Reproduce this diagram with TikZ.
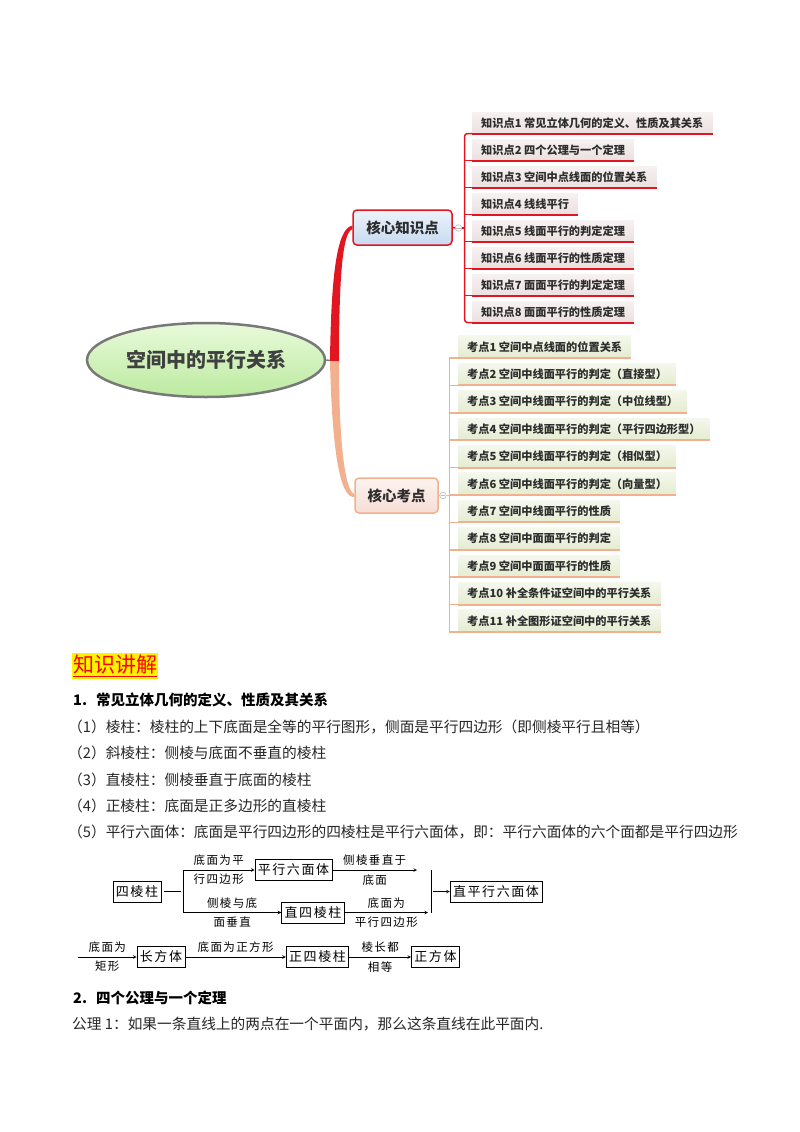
\documentclass[tikz,border=0pt]{standalone}
\usepackage{fontspec}
\setmainfont{Noto Sans CJK SC}
\newfontfamily\boxfont[LetterSpace=12]{Noto Sans CJK SC}
\usepackage{xcolor}
\usetikzlibrary{positioning,shapes.geometric}

\definecolor{mapred}{RGB}{226,22,32}
\definecolor{mapsalmon}{RGB}{242,176,142}
\definecolor{maptext}{RGB}{45,45,45}
\definecolor{rootgray}{RGB}{120,120,120}
\definecolor{kpfill}{RGB}{236,224,224}
\definecolor{epfill}{RGB}{228,236,208}

\tikzset{
  rootnode/.style={ellipse, draw=rootgray, line width=2.5pt, top color={rgb,255:red,232;green,250;blue,218}, bottom color={rgb,255:red,188;green,234;blue,160}, minimum width=238pt, minimum height=74pt, font=\fontsize{20}{24}\selectfont\bfseries, text=black!75},
  kcnode/.style={draw=mapred, line width=1.5pt, rounded corners=4pt, top color={rgb,255:red,236;green,243;blue,251}, bottom color={rgb,255:red,200;green,218;blue,240}, minimum width=99pt, minimum height=35pt, font=\fontsize{14.5}{17}\selectfont\bfseries, text=maptext},
  ecnode/.style={draw=mapsalmon, line width=1.5pt, rounded corners=4pt, top color={rgb,255:red,253;green,242;blue,238}, bottom color={rgb,255:red,246;green,222;blue,214}, minimum width=83pt, minimum height=35pt, font=\fontsize{14.5}{17}\selectfont\bfseries, text=maptext},
  kpitem/.style={anchor=south west, minimum height=21pt, inner xsep=9pt, inner ysep=0pt, top color=white!55!kpfill, bottom color=kpfill, font=\fontsize{11.2}{13}\selectfont\bfseries, text=maptext},
  epitem/.style={anchor=south west, minimum height=22pt, inner xsep=9pt, inner ysep=0pt, top color=white!60!epfill, bottom color=epfill, font=\fontsize{11.2}{13}\selectfont\bfseries, text=maptext},
  kline/.style={draw=mapred, line width=1.5pt},
  eline/.style={draw=mapsalmon, line width=1.5pt},
  foldmark/.style={circle, draw=gray!55, fill=white, line width=0.6pt, inner sep=0pt, minimum size=6.5pt},
  bodytext/.style={anchor=west, inner sep=0pt, font=\fontsize{14.7}{17}\selectfont, text=black!85},
  headtext/.style={anchor=west, inner sep=0pt, font=\fontsize{14.5}{17}\selectfont\bfseries, text=black},
  solidbox/.style={draw, line width=0.7pt, minimum height=21pt, inner xsep=3pt, inner ysep=0pt, font=\boxfont\fontsize{13}{15}\selectfont},
  arrlabel/.style={inner xsep=1.5pt, inner ysep=4pt, font=\boxfont\fontsize{11.5}{13}\selectfont},
  flow/.style={->, >=stealth, line width=0.6pt},
}

\begin{document}
\begin{tikzpicture}[x=1pt,y=-1pt]
\useasboundingbox (0,0) rectangle (800,1132);

% mind map: centre and the two main branches
\node[rootnode] (cen) at (206,360) {空间中的平行关系};
\node[kcnode] (kc) at (402.5,227.5) {核心知识点};
\node[ecnode] (ec) at (396.5,495.5) {核心考点};
\coordinate (root) at (334,361);

\draw[rootgray, line width=1.5pt] (cen.east) -- (root);
\fill[mapred] ([xshift=-4pt]root) .. controls (331,282) and (336,228) .. ([yshift=1.8pt]kc.west)
  -- ([yshift=-1.8pt]kc.west) .. controls (342,232) and (339,284) .. ([xshift=5pt]root) -- cycle;
\fill[mapsalmon] ([xshift=-4pt]root) .. controls (332,445) and (339,498) .. ([yshift=-1.6pt]ec.west)
  -- ([yshift=1.6pt]ec.west) .. controls (345,491) and (339,443) .. ([xshift=5pt]root) -- cycle;

% knowledge points
\node[kpitem] (k1) at (472,133.5) {知识点1 常见立体几何的定义、性质及其关系};
\node[kpitem] (k2) at (472,160.5) {知识点2 四个公理与一个定理};
\node[kpitem] (k3) at (472,187.5) {知识点3 空间中点线面的位置关系};
\node[kpitem] (k4) at (472,214.5) {知识点4 线线平行};
\node[kpitem] (k5) at (472,241.5) {知识点5 线面平行的判定定理};
\node[kpitem] (k6) at (472,268.5) {知识点6 线面平行的性质定理};
\node[kpitem] (k7) at (472,295.5) {知识点7 面面平行的判定定理};
\node[kpitem] (k8) at (472,322.5) {知识点8 面面平行的性质定理};

\node[foldmark] (kfold) at (458.5,228) {};
\draw[gray!55, line width=0.6pt] ([xshift=1.5pt]kfold.west) -- ([xshift=-1.5pt]kfold.east);
\coordinate (kb) at (464.5,228);
\draw[kline] (kc.east) -- (kfold.west);
\draw[kline] (kfold.east) -- (kb);
\draw[kline, rounded corners=3pt] (k1.south west) -- (k1.south west -| kb) -- (k8.south west -| kb) -- (k8.south west);
\foreach \n in {k2,k3,k4,k5,k6,k7}
  \draw[kline] (\n.south west -| kb) -- (\n.south west);
\foreach \n in {k1,k2,k3,k4,k5,k6,k7,k8}
  \draw[mapred, line width=2pt] (\n.south west) -- (\n.south east);

% exam points
\node[epitem] (e1) at (458,358) {考点1 空间中点线面的位置关系};
\node[epitem] (e2) at (458,385.4) {考点2 空间中线面平行的判定（直接型）};
\node[epitem] (e3) at (458,412.8) {考点3 空间中线面平行的判定（中位线型）};
\node[epitem] (e4) at (458,440.2) {考点4 空间中线面平行的判定（平行四边形型）};
\node[epitem] (e5) at (458,467.6) {考点5 空间中线面平行的判定（相似型）};
\node[epitem] (e6) at (458,495) {考点6 空间中线面平行的判定（向量型）};
\node[epitem] (e7) at (458,522.4) {考点7 空间中线面平行的性质};
\node[epitem] (e8) at (458,549.8) {考点8 空间中面面平行的判定};
\node[epitem] (e9) at (458,577.2) {考点9 空间中面面平行的性质};
\node[epitem] (e10) at (458,604.6) {考点10 补全条件证空间中的平行关系};
\node[epitem] (e11) at (458,632) {考点11 补全图形证空间中的平行关系};

\node[foldmark] (efold) at (443,495.5) {};
\draw[gray!55, line width=0.6pt] ([xshift=1.5pt]efold.west) -- ([xshift=-1.5pt]efold.east);
\coordinate (eb) at (449.5,495.5);
\draw[eline] (ec.east) -- (efold.west);
\draw[eline] (efold.east) -- (eb);
\draw[eline] (e1.south west) -- (e1.south west -| eb) -- (e11.south west -| eb) -- (e11.south west);
\foreach \n in {e2,e3,e4,e5,e6,e7,e8,e9,e10}
  \draw[eline] (\n.south west -| eb) -- (\n.south west);
\foreach \n in {e1,e2,e3,e4,e5,e6,e7,e8,e9,e10,e11}
  \draw[mapsalmon, line width=2pt] (\n.south west) -- (\n.south east);

% text part
\node[fill=yellow, text=red, inner xsep=1pt, inner ysep=2pt, font=\fontsize{21}{24}\selectfont] (zsjj) at (115,666) {\underline{知识讲解}};
\node[headtext] (h1) at (73,700) {1.\hspace{9pt}常见立体几何的定义、性质及其关系};
\node[bodytext] (p1) at (68,727) {（1）棱柱：棱柱的上下底面是全等的平行图形，侧面是平行四边形（即侧棱平行且相等）};
\node[bodytext] (p2) at (68,753) {（2）斜棱柱：侧棱与底面不垂直的棱柱};
\node[bodytext] (p3) at (68,779.5) {（3）直棱柱：侧棱垂直于底面的棱柱};
\node[bodytext] (p4) at (68,806) {（4）正棱柱：底面是正多边形的直棱柱};
\node[bodytext] (p5) at (68,832) {（5）平行六面体：底面是平行四边形的四棱柱是平行六面体，即：平行六面体的六个面都是平行四边形};

% prism diagram
\node[solidbox] (slz) at (137,891.5) {四棱柱};
\node[solidbox] (pl) at (293.5,870) {平行六面体};
\node[solidbox] (zs) at (313,912.5) {直四棱柱};
\node[solidbox] (zp) at (496,891.5) {直平行六面体};
\coordinate (fk) at (183,891.5);
\coordinate (jn) at (431,891.5);
\coordinate (ta) at (417,870);
\coordinate (tb) at (428,912.5);

\draw[line width=0.6pt] ([xshift=3pt]slz.east) -- ([xshift=-2pt]fk);
\draw[line width=0.6pt] (fk |- pl) -- (fk |- zs);
\draw[flow] (fk |- pl) -- (pl.west) node[arrlabel, midway, above] (l1a) {底面为平} node[arrlabel, midway, below] (l1b) {行四边形};
\draw[flow] (fk |- zs) -- (zs.west) node[arrlabel, midway, above] (l2a) {侧棱与底} node[arrlabel, midway, below] (l2b) {面垂直};
\draw[flow] (pl.east) -- (ta) node[arrlabel, midway, above] (l3a) {侧棱垂直于} node[arrlabel, midway, below] (l3b) {底面};
\draw[flow] (zs.east) -- (tb) node[arrlabel, midway, above] (l4a) {底面为} node[arrlabel, midway, below] (l4b) {平行四边形};
\draw[line width=0.6pt] (jn |- pl) -- (jn |- zs);
\draw[flow] ([xshift=2pt]jn) -- (zp.west);

\node[solidbox] (cft) at (161,957) {长方体};
\node[solidbox] (zsl) at (317.5,957) {正四棱柱};
\node[solidbox] (zft) at (435.5,957) {正方体};
\coordinate (rs) at (78,957);
\draw[flow] (rs) -- (cft.west) node[arrlabel, midway, above] (l5a) {底面为} node[arrlabel, midway, below] (l5b) {矩形};
\draw[flow] (cft.east) -- (zsl.west) node[arrlabel, midway, above] (l6a) {底面为正方形};
\draw[flow] (zsl.east) -- (zft.west) node[arrlabel, midway, above] (l7a) {棱长都} node[arrlabel, midway, below] (l7b) {相等};

\node[headtext] (h2) at (73,998) {2.\hspace{9pt}四个公理与一个定理};
\node[bodytext] (q1) at (72,1024.5) {公理 1：如果一条直线上的两点在一个平面内，那么这条直线在此平面内.};
\end{tikzpicture}
\end{document}
